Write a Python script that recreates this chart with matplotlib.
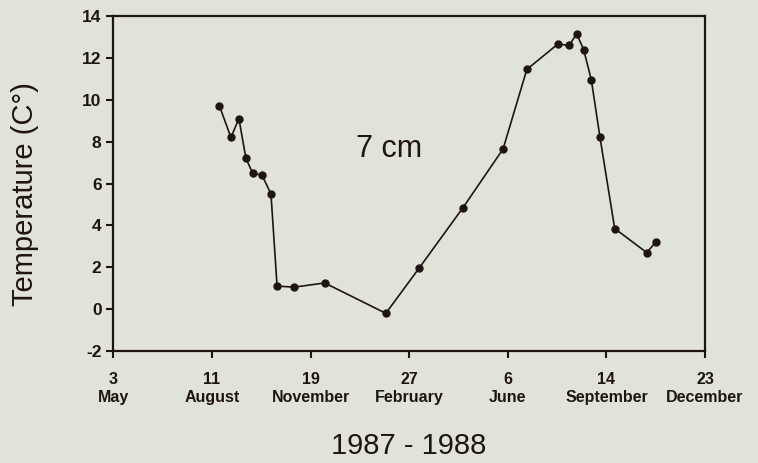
import matplotlib
matplotlib.use("Agg")
import matplotlib.pyplot as plt

# days counted from 3 May 1987
days = [107.6, 119.2, 127.3, 134.4, 141.2, 150.7, 159.8, 166.0, 183.5, 214.3,
        276.3, 309.9, 354.6, 395.2, 419.3, 450.5, 462.3, 469.8, 476.9, 484.7,
        493.5, 508.4, 540.9, 550.0]
temp = [9.7, 8.2, 9.1, 7.2, 6.5, 6.4, 5.5, 1.1, 1.05, 1.25,
        -0.2, 1.95, 4.85, 7.65, 11.45, 12.65, 12.6, 13.15, 12.4, 10.95,
        8.2, 3.85, 2.7, 3.2]

tick_days = [0, 100, 200, 300, 400, 500, 600]
tick_labels = ["3\nMay", "11\nAugust", "19\nNovember", "27\nFebruary",
               "6\nJune", "14\nSeptember", "23\nDecember"]

bg = "#e2e3d8"
ink = "#1e1414"
plt.rcParams['font.family'] = ['Liberation Sans', 'DejaVu Sans']
plt.rcParams['axes.unicode_minus'] = False

fig = plt.figure(figsize=(7.58, 4.63), dpi=100, facecolor=bg)
ax = fig.add_axes([0.1496, 0.2419, 0.7805, 0.7235])
ax.set_facecolor(bg)

ax.plot(days, temp, '-o', color=ink, lw=1.2, ms=5)

ax.set_xlim(0, 600)
ax.set_ylim(-2, 14)
ax.set_xticks(tick_days)
ax.set_xticklabels(tick_labels, fontsize=11.5, fontweight='bold', linespacing=1.3)
ax.set_yticks(range(-2, 15, 2))
ax.tick_params(axis='y', labelsize=12.5, length=5, width=1.5, direction='out', colors=ink)
ax.tick_params(axis='x', length=5, width=1.5, direction='out', pad=10, colors=ink)
for lbl in ax.get_yticklabels():
    lbl.set_fontweight('bold')
for s in ax.spines.values():
    s.set_linewidth(1.6)
    s.set_color(ink)

fig.text(25 / 758, 1 - 194 / 463, "Temperature (C°)", fontsize=21, rotation=90,
         ha='center', va='center', color=ink)
fig.text(409 / 758, 1 - 454 / 463, "1987 - 1988", fontsize=21,
         ha='center', va='baseline', color=ink)
ax.text(280, 7.26, "7 cm", fontsize=22, ha='center', va='baseline', color=ink)

fig.savefig("out.png", dpi=100, facecolor=bg)
